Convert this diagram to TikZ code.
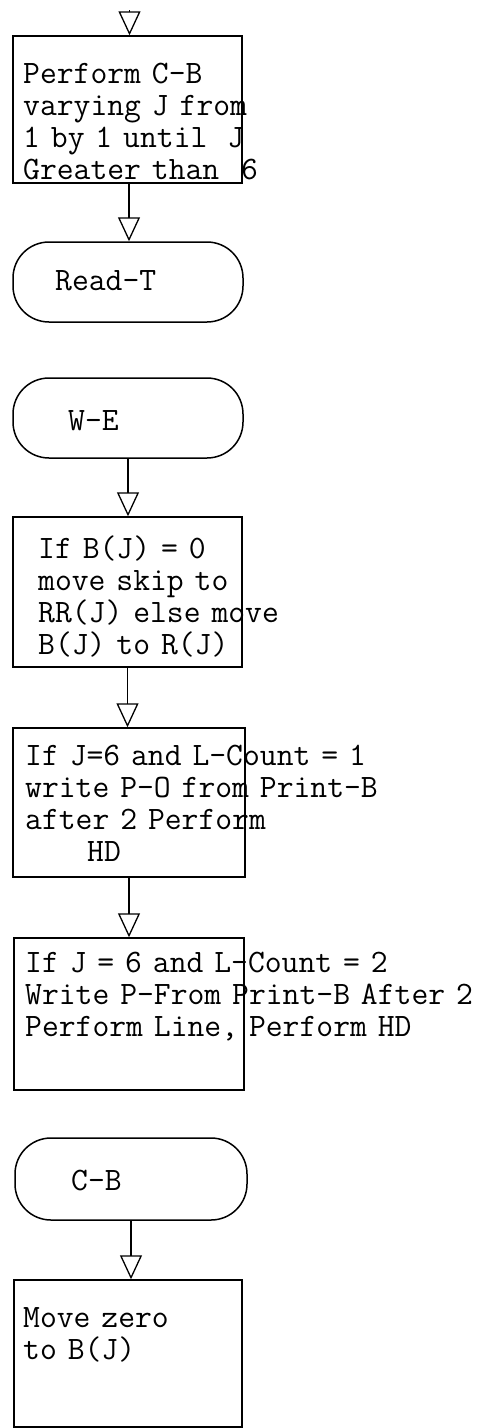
\documentclass[tikz,border=0pt]{standalone}
\usepackage{tikz}
\usetikzlibrary{arrows.meta,positioning}

\tikzset{
  procbox/.style={draw, line width=1.5pt, rectangle, inner sep=0pt},
  termbox/.style={draw, line width=1.5pt, rectangle, rounded corners=36pt,
    minimum width=230pt, minimum height=80pt, inner sep=0pt},
  typed/.style={font=\ttfamily\fontsize{32.7}{32}\selectfont, text width=465pt,
    align=left, inner sep=0pt, anchor=base west},
  flow/.style={line width=1.3pt, -{Triangle[open, length=24pt, width=22pt, line width=1.3pt]}}
}

\begin{document}
\begin{tikzpicture}[x=1pt, y=-1pt]
    \useasboundingbox (0,0) rectangle (481,1428);

    % loop over C-B
    \coordinate (start) at (129.5,10);
    \node[procbox, minimum width=229pt, minimum height=147pt] (loop) at (127.5,109.5) {};
    \node[typed] (looptxt) at (23,83) {Perform C-B\\varying J from\\1 by 1 until \hspace{9pt}J\\Greater than~~6};
    \draw[flow] (start) -- (start |- loop.north);

    % read
    \node[termbox] (readt) at (128,282) {};
    \node[typed] (readtxt) at (55,290) {Read-T};
    \draw[flow] ([xshift=1.5pt]loop.south) -- ([xshift=1.5pt]loop.south |- readt.north);

    % W-E paragraph
    \node[termbox] (we) at (128,418) {};
    \node[typed] (wetxt) at (68,430) {W-E};

    \node[procbox, minimum width=229pt, minimum height=150pt] (skip) at (127.5,592) {};
    \node[typed] (skiptxt) at (38,558) {If B(J) = 0\\move skip to\\RR(J) else move\\B(J) to R(J)};
    \draw[flow] (we.south) -- (we.south |- skip.north);

    \node[procbox, minimum width=232pt, minimum height=149pt] (first) at (129,802.5) {};
    \node[typed] (firsttxt) at (25,765) {If J=6 and L-Count = 1\\write P-O from Print-B\\after 2 Perform\\\hspace*{62pt}HD};
    \draw[flow] (skip.south) -- (skip.south |- first.north);

    \node[procbox, minimum width=230pt, minimum height=152pt] (second) at (129,1014) {};
    \node[typed] (secondtxt) at (25,972) {If J = 6 and L-Count = 2\\Write P-From Print-B After 2\\Perform Line, Perform HD};
    \draw[flow] (first.south) -- (first.south |- second.north);

    % C-B paragraph
    \node[termbox, minimum width=232pt, minimum height=82pt] (cb) at (131,1179) {};
    \node[typed] (cbtxt) at (71,1190) {C-B};

    \node[procbox, minimum width=228pt, minimum height=147pt] (zero) at (128,1353.5) {};
    \node[typed] (zerotxt) at (23,1327) {Move zero\\to B(J)};
    \draw[flow] (cb.south) -- (cb.south |- zero.north);
\end{tikzpicture}
\end{document}
